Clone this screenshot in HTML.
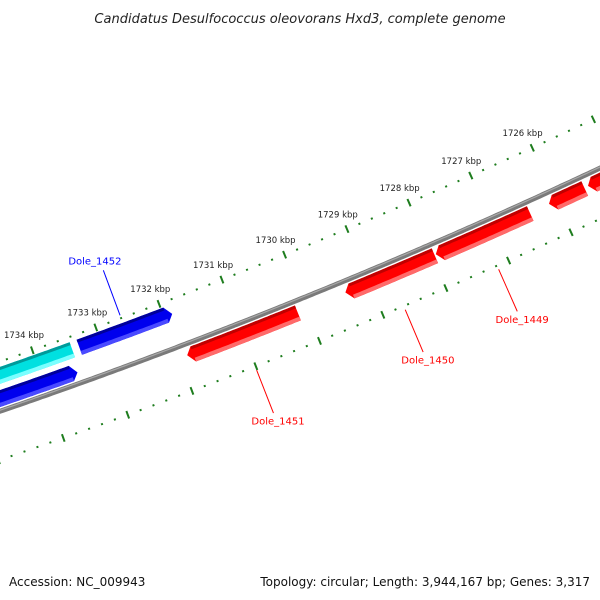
<!DOCTYPE html>
<html><head><meta charset="utf-8"><style>
html,body{margin:0;padding:0;background:#fff;}
svg{display:block;font-family:"DejaVu Sans","Liberation Sans",sans-serif;}
</style></head><body>
<svg id="map" width="600" height="600" viewBox="0 0 600 600" xmlns="http://www.w3.org/2000/svg">
<rect width="600" height="600" fill="#fff"/>
<text x="300" y="23" text-anchor="middle" font-size="13" font-style="italic" fill="#222">Candidatus Desulfococcus oleovorans Hxd3, complete genome</text>
<g id="ticks"></g>
<g id="backbone"></g>
<g id="genes"></g>
<g id="labels"></g>
<text x="9" y="586" font-size="12" fill="#111">Accession: NC_009943</text>
<text x="590" y="586" text-anchor="end" font-size="12" fill="#111">Topology: circular; Length: 3,944,167 bp; Genes: 3,317</text>
</svg>
<script>
const tickKbp = [1724,1725,1726,1727,1728,1729,1730,1731,1732,1733,1734,1735,1736];
const labelKbp = [1726,1727,1728,1729,1730,1731,1732,1733,1734];
const geneNames = ["Dole_1449","Dole_1450","Dole_1451","Dole_1452","gene-left-blue","gene-cyan","gene-red-a","gene-red-b"];
const geneFrom = [1726.43,1727.96,1730.14,1733.33,1736.5,1733.44,1725.55,1724.0];
const geneTo   = [1727.94,1729.38,1731.88,1731.87,1733.48,1736.5,1726.12,1725.49];
const geneLane = [0,0,0,2,1,2,0,0];
const geneLabeled = [true,true,true,true,false,false,false,false];

const NS='http://www.w3.org/2000/svg';
const CX=-1950, CY=-5263, TH0=1.186, DTH=0.01133, RB=6000;
function pt(k,r){const t=TH0+(k-1730)*DTH;return [CX+r*Math.cos(t),CY+r*Math.sin(t)];}
function mk(tag,attrs,parent){const e=document.createElementNS(NS,tag);for(const a in attrs)e.setAttribute(a,attrs[a]);parent.appendChild(e);return e;}
function arcPts(a,b,r){const out=[];const n=Math.max(2,Math.ceil(Math.abs(b-a)/0.05));for(let i=0;i<=n;i++){out.push(pt(a+(b-a)*i/n,r));}return out;}
const f=p=>p[0].toFixed(1)+','+p[1].toFixed(1);

// ticks
const tg=document.getElementById('ticks');
const rings=[5953,6046];
for(const R of rings){
  for(let k0=tickKbp[0];k0<tickKbp[tickKbp.length-1];k0++){
    for(let j=0;j<5;j++){
      const k=k0+j*0.2, major=j===0;
      const a=pt(k,R-(major?4:1)), b=pt(k,R+(major?4:1));
      const l=mk('line',{x1:a[0],y1:a[1],x2:b[0],y2:b[1],stroke:'#1e7d1e','stroke-width':2},tg);
      
      
    }
  }
}
for(const k of labelKbp){
  const p=pt(k,5937);
  const t=mk('text',{x:p[0]-3,y:p[1]+3,'text-anchor':'middle','font-size':'8.5',fill:'#222'},tg);
  t.textContent=k+' kbp';
  
  
}
// backbone
const bg=document.getElementById('backbone');
const bp=arcPts(1737,1723,RB).map(f).join(' ');
const bl=mk('polyline',{points:bp,fill:'none',stroke:'#7a7a7a','stroke-width':5},bg);


const bl2=mk('polyline',{points:arcPts(1737,1723,RB-1).map(f).join(' '),fill:'none',stroke:'#a8a8a8','stroke-width':1.2},bg);



// genes
const lanes=[[6004,6020],[5980,5996],[5958,5974]];
const colors=[['#ff0000','#c00000','#ff6a6a'],['#0000ee','#00009a','#4a4aff'],['#00e0e0','#009a9a','#7affff']];
const gg=document.getElementById('genes');
for(let i=0;i<geneNames.length;i++){
  const lane=geneLane[i];const [r0,r1]=lanes[lane];
  const c=lane===0?colors[0]:(geneNames[i]==='gene-cyan'?colors[2]:colors[1]);
  const from=geneFrom[i], to=geneTo[i], s=Math.sign(to-from), h=0.09;
  const bodyEnd=to-s*h, rm=(r0+r1)/2;
  const poly=[...arcPts(from,bodyEnd,r0), pt(to,rm+ (lane===0?-1:1)), ...arcPts(bodyEnd,from,r1)];
  const g=mk('g',{},gg);
  
  
  mk('polygon',{points:poly.map(f).join(' '),fill:c[0]},g);
  const top=[...arcPts(from,bodyEnd,r0),...arcPts(bodyEnd,from,r0+3)];
  mk('polygon',{points:top.map(f).join(' '),fill:c[1]},g);
  const bot=[...arcPts(from,bodyEnd,r1-4),...arcPts(bodyEnd,from,r1)];
  mk('polygon',{points:bot.map(f).join(' '),fill:c[2]},g);
}
// labels
const lg=document.getElementById('labels');
for(let i=0;i<geneNames.length;i++){
  if(!geneLabeled[i])continue;
  const mid=(geneFrom[i]+geneTo[i])/2;
  const red=geneLane[i]===0;
  const col=red?'#ff0000':'#0000ff';
  const a=pt(mid,red?6050:5950), b=pt(mid,red?6096:5902), c=pt(mid,red?6103:5895);
  const l=mk('line',{x1:a[0],y1:a[1],x2:b[0],y2:b[1],stroke:col,'stroke-width':1},lg);
  
  
  const t=mk('text',{x:c[0]+(red?2:-6),y:c[1]+(red?5:1),'text-anchor':'middle','font-size':'10',fill:col},lg);
  t.textContent=geneNames[i];
  
  
}
</script>
</body></html>
